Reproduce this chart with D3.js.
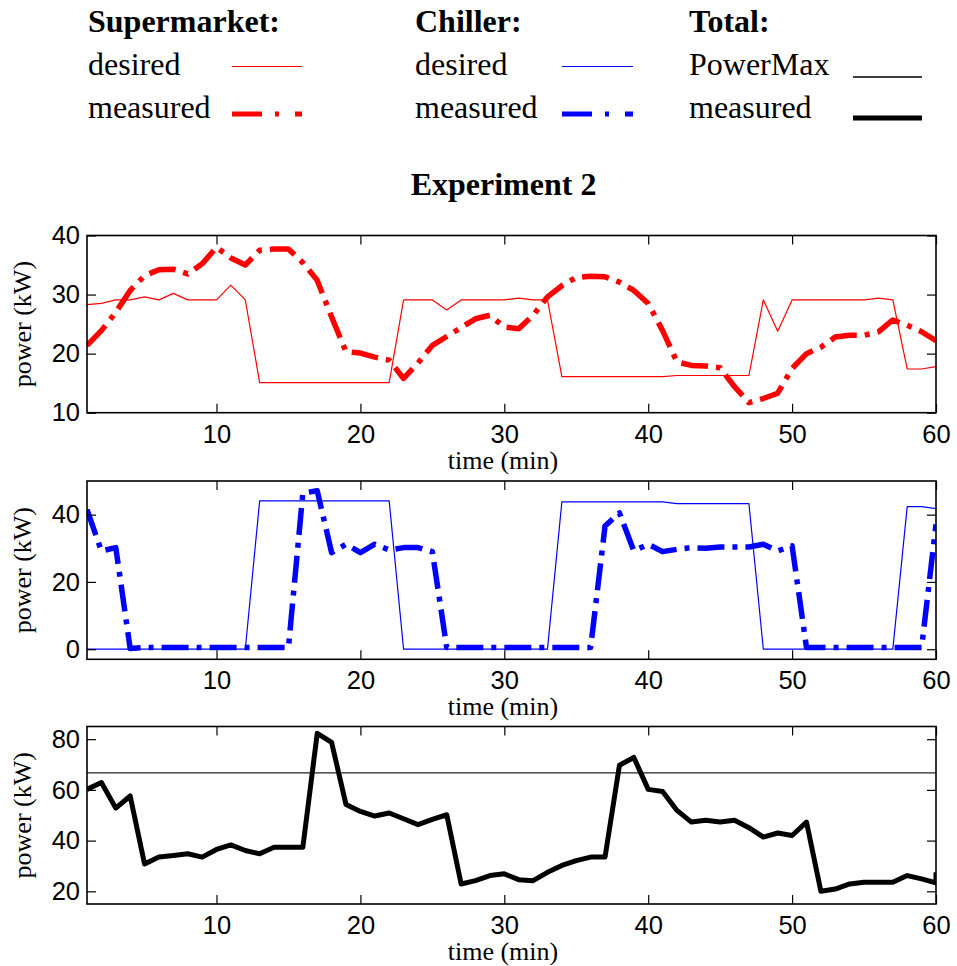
<!DOCTYPE html>
<html>
<head>
<meta charset="utf-8">
<script src="https://cdn.jsdelivr.net/npm/d3@7"></script>
<style>
  html, body { margin: 0; padding: 0; background: #fff; }
  svg { display: block; }
</style>
</head>
<body>
<script>
// ---------- data ----------
const minutes = d3.range(1, 61);

const smDesired = [
  28.3, 28.5, 29.1, 29.1, 29.6, 29.1, 30.2, 29.1, 29.1, 29.1,
  31.6, 29.1, 15.1, 15.1, 15.1, 15.1, 15.1, 15.1, 15.1, 15.1,
  15.1, 15.1, 29.1, 29.1, 29.1, 27.4, 29.1, 29.1, 29.1, 29.1,
  29.4, 29.1, 29.1, 16.1, 16.1, 16.1, 16.1, 16.1, 16.1, 16.1,
  16.1, 16.3, 16.3, 16.3, 16.3, 16.3, 16.3, 29.1, 23.8, 29.1,
  29.1, 29.1, 29.1, 29.1, 29.1, 29.4, 29.1, 17.4, 17.4, 17.8
];
const smMeasured = [
  21.4, 23.9, 27.0, 30.7, 33.2, 34.2, 34.3, 33.5, 35.2, 38.0,
  36.2, 35.0, 37.5, 37.7, 37.7, 35.4, 32.4, 26.2, 20.3, 20.1,
  19.4, 18.9, 15.8, 18.4, 21.4, 22.9, 24.4, 25.9, 26.5, 24.5,
  24.2, 26.5, 29.6, 31.5, 32.9, 33.1, 33.0, 32.1, 30.7, 28.5,
  23.9, 18.6, 18.0, 17.9, 17.6, 14.4, 11.7, 12.4, 13.3, 17.5,
  20.0, 21.1, 22.8, 23.1, 23.1, 23.7, 25.7, 24.8, 23.7, 22.2
];
const chDesired = [
  0, 0, 0, 0, 0, 0, 0, 0, 0, 0,
  0, 0, 44.1, 44.1, 44.1, 44.1, 44.1, 44.1, 44.1, 44.1,
  44.1, 44.1, 0, 0, 0, 0, 0, 0, 0, 0,
  0, 0, 0, 43.8, 43.8, 43.8, 43.8, 43.8, 43.8, 43.8,
  43.8, 43.3, 43.3, 43.3, 43.3, 43.3, 43.3, 0, 0, 0,
  0, 0, 0, 0, 0, 0, 0, 42.4, 42.4, 41.8
];
const chMeasured = [
  41.5, 29.2, 30.2, 0.2, 0.5, 0.5, 0.5, 0.5, 0.5, 0.5,
  0.5, 0.5, 0.5, 0.5, 0.5, 46.4, 47.1, 28.7, 31.2, 28.7,
  31.2, 29.5, 30.2, 30.2, 29.0, 0.5, 0.5, 0.5, 0.5, 0.5,
  0.5, 0.5, 0.5, 0.5, 0.5, 0.5, 36.6, 40.5, 29.2, 31.2,
  29.0, 29.7, 30.2, 30.0, 30.4, 30.4, 30.4, 31.2, 29.2, 30.7,
  0.5, 0.5, 0.5, 0.5, 0.5, 0.5, 0.5, 0.5, 0.5, 37.1
];
const totalTime = minutes.concat([60]);
const totalMeasured = [
  60.2, 62.9, 52.8, 57.6, 30.8, 33.5, 34.1, 34.8, 33.5, 36.5,
  38.3, 36.1, 34.8, 37.4, 37.4, 37.4, 82.3, 78.7, 54.2, 51.5,
  49.7, 50.9, 48.6, 46.3, 48.4, 50.2, 22.9, 24.2, 26.2, 26.9,
  24.6, 24.2, 27.5, 30.2, 32.1, 33.5, 33.5, 69.7, 72.8, 60.2,
  59.4, 51.9, 47.3, 48.0, 47.3, 48.0, 45.1, 41.4, 43.0, 42.0,
  47.3, 20.0, 20.9, 22.9, 23.6, 23.6, 23.6, 26.2, 24.9, 23.3,
  27.5
];
const powerMax = 66.7;

const xTicks = [10, 20, 30, 40, 50, 60];
const yTicksSM = [10, 20, 30, 40];
const yTicksCH = [0, 20, 40];
const yTicksTot = [20, 40, 60, 80];

const legendGroups = ["Supermarket:", "Chiller:", "Total:"];
const legendRows = [["desired", "measured"], ["desired", "measured"], ["PowerMax", "measured"]];
const titleText = "Experiment 2";
const xLabel = "time (min)";
const yLabel = "power (kW)";

// ---------- layout ----------
const W = 957, H = 966;
const L = 87, R = 936;
const serif = "'Liberation Serif', 'Times New Roman', Times, serif";
const sans = "'Liberation Sans', Arial, Helvetica, sans-serif";
const RED = "#ff0000", BLUE = "#0000ff", BLACK = "#000000";
const DASHDOT = "27,8,5,8";
const LEG_DASHDOT = "30,13,4,16";

const svg = d3.select("body").append("svg").attr("width", W).attr("height", H);

const x = d3.scaleLinear().domain([1, 60]).range([L, R]);

const panels = [
  { top: 235.5, bottom: 412.7, domain: [10, 40], ticks: yTicksSM,
    series: [
      { t: minutes, v: smDesired, color: RED, width: 1.2, dash: null },
      { t: minutes, v: smMeasured, color: RED, width: 5.5, dash: DASHDOT }
    ] },
  { top: 481, bottom: 659.3, domain: [-3, 50], ticks: yTicksCH,
    series: [
      { t: minutes, v: chDesired, color: BLUE, width: 1.2, dash: null },
      { t: minutes, v: chMeasured, color: BLUE, width: 5.5, dash: DASHDOT }
    ] },
  { top: 726.5, bottom: 904, domain: [15, 85], ticks: yTicksTot, hline: powerMax,
    series: [
      { t: totalTime, v: totalMeasured, color: BLACK, width: 5, dash: null }
    ] }
];

panels.forEach((p, i) => {
  const y = d3.scaleLinear().domain(p.domain).range([p.bottom, p.top]);
  const g = svg.append("g");
  const clipId = "clip" + i;
  svg.append("clipPath").attr("id", clipId).append("rect")
    .attr("x", L).attr("y", p.top).attr("width", R - L).attr("height", p.bottom - p.top);

  const plot = g.append("g").attr("clip-path", `url(#${clipId})`);

  if (p.hline !== undefined) {
    plot.append("line")
      .attr("x1", L).attr("x2", R)
      .attr("y1", y(p.hline)).attr("y2", y(p.hline))
      .attr("stroke", "#222").attr("stroke-width", 1.2);
  }

  p.series.forEach(s => {
    const line = d3.line().x((d, k) => x(s.t[k])).y(d => y(d));
    plot.append("path")
      .datum(s.v)
      .attr("d", line)
      .attr("fill", "none")
      .attr("stroke", s.color)
      .attr("stroke-width", s.width)
      .attr("stroke-linejoin", "round")
      .attr("stroke-dasharray", s.dash);
  });

  // axes with inward ticks
  const bottomAxis = g.append("g").attr("transform", `translate(0,${p.bottom})`)
    .call(d3.axisBottom(x).tickValues(xTicks).tickFormat(d3.format("d")).tickSize(-9).tickPadding(12));
  const topAxis = g.append("g").attr("transform", `translate(0,${p.top})`)
    .call(d3.axisTop(x).tickValues(xTicks).tickFormat("").tickSize(-9));
  const leftAxis = g.append("g").attr("transform", `translate(${L},0)`)
    .call(d3.axisLeft(y).tickValues(p.ticks).tickFormat(d3.format("d")).tickSize(-9).tickPadding(7));
  const rightAxis = g.append("g").attr("transform", `translate(${R},0)`)
    .call(d3.axisRight(y).tickValues(p.ticks).tickFormat("").tickSize(-9));

  [bottomAxis, topAxis, leftAxis, rightAxis].forEach(a => {
    a.select(".domain").remove();
    a.selectAll(".tick line").attr("stroke", "#000").attr("stroke-width", 1.2);
    a.selectAll(".tick text").attr("font-family", sans).attr("font-size", 25.5).attr("fill", "#000");
  });

  g.append("rect")
    .attr("x", L).attr("y", p.top).attr("width", R - L).attr("height", p.bottom - p.top)
    .attr("fill", "none").attr("stroke", "#000").attr("stroke-width", 1.6);

  g.append("text")
    .attr("x", 503).attr("y", p.bottom + 56)
    .attr("text-anchor", "middle")
    .attr("font-family", serif).attr("font-size", 26)
    .text(xLabel);

  g.append("text")
    .attr("transform", `translate(31,${(p.top + p.bottom) / 2}) rotate(-90)`)
    .attr("text-anchor", "middle")
    .attr("font-family", serif).attr("font-size", 26)
    .text(yLabel);
});

// ---------- title ----------
svg.append("text")
  .attr("x", 503.5).attr("y", 195)
  .attr("text-anchor", "middle")
  .attr("font-family", serif).attr("font-size", 32).attr("font-weight", "bold")
  .text(titleText);

// ---------- legend ----------
const legCols = [
  { x: 88, lx1: 232, lx2: 302, items: [
    { color: RED, width: 1.2, dash: null, ly: 66.5 },
    { color: RED, width: 5, dash: LEG_DASHDOT, ly: 114 } ] },
  { x: 415, lx1: 562, lx2: 633, items: [
    { color: BLUE, width: 1.2, dash: null, ly: 66.5 },
    { color: BLUE, width: 5, dash: LEG_DASHDOT, ly: 114 } ] },
  { x: 689, lx1: 853, lx2: 922, items: [
    { color: BLACK, width: 1.5, dash: null, ly: 77 },
    { color: BLACK, width: 5, dash: null, ly: 118 } ] }
];
const rowBase = [75, 118];

legCols.forEach((c, ci) => {
  svg.append("text")
    .attr("x", c.x).attr("y", 32)
    .attr("font-family", serif).attr("font-size", 32).attr("font-weight", "bold")
    .text(legendGroups[ci]);
  c.items.forEach((it, ri) => {
    svg.append("text")
      .attr("x", c.x).attr("y", rowBase[ri])
      .attr("font-family", serif).attr("font-size", 32)
      .text(legendRows[ci][ri]);
    svg.append("line")
      .attr("x1", c.lx1).attr("x2", c.lx2)
      .attr("y1", it.ly).attr("y2", it.ly)
      .attr("stroke", it.color).attr("stroke-width", it.width)
      .attr("stroke-dasharray", it.dash);
  });
});
</script>
</body>
</html>
